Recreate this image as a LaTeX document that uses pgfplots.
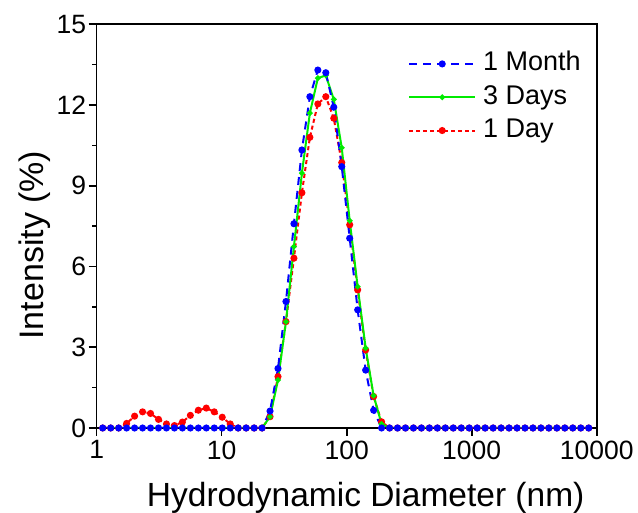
\documentclass[border=0pt]{standalone}
\usepackage{fontspec}
\setmainfont{Liberation Sans}
\usepackage{pgfplots}
\usepackage{pgfplotstable}
\pgfplotsset{compat=1.18}
\definecolor{cblue}{RGB}{0,0,255}
\definecolor{cgreen}{RGB}{0,235,0}
\definecolor{cred}{RGB}{255,0,0}
\pgfplotstableread{
d red green blue
1.117 0 0 0
1.294 0 0 0
1.499 0 0 0
1.736 0.17 0 0
2.010 0.44 0 0
2.328 0.60 0 0
2.696 0.54 0 0
3.122 0.32 0 0
3.615 0.15 0 0
4.187 0.09 0 0
4.849 0.22 0 0
5.615 0.47 0 0
6.503 0.66 0 0
7.531 0.74 0 0
8.721 0.60 0 0
10.10 0.40 0 0
11.70 0.15 0 0
13.54 0 0 0
15.69 0 0 0
18.17 0 0 0
21.04 0 0 0
24.36 0.42 0.42 0.63
28.21 1.91 1.78 2.21
32.67 3.95 3.95 4.70
37.84 6.31 6.74 7.59
43.82 8.74 9.47 10.33
50.75 10.80 11.70 12.31
58.77 12.04 13.00 13.30
68.06 12.31 13.10 13.20
78.82 11.51 12.21 11.92
91.28 9.86 10.41 9.71
105.7 7.55 7.70 7.05
122.4 5.13 5.25 4.39
141.8 2.90 2.97 2.15
164.2 1.17 1.20 0.66
190.1 0.23 0.15 0
220.2 0 0 0
255.0 0 0 0
295.3 0 0 0
342.0 0 0 0
396.1 0 0 0
458.7 0 0 0
531.2 0 0 0
615.1 0 0 0
712.4 0 0 0
825.0 0 0 0
955.4 0 0 0
1106 0 0 0
1281 0 0 0
1484 0 0 0
1718 0 0 0
1990 0 0 0
2305 0 0 0
2669 0 0 0
3091 0 0 0
3580 0 0 0
4145 0 0 0
4801 0 0 0
5560 0 0 0
6439 0 0 0
7456 0 0 0
8635 0 0 0
}\data
\begin{document}
\begin{tikzpicture}
\useasboundingbox (-96.7pt,-85pt) rectangle (541.3pt,428pt);
\begin{axis}[
  at={(0pt,0pt)}, anchor=south west,
  scale only axis, width=500pt, height=403.7pt,
  xmode=log, log basis x=10,
  xmin=1, xmax=10000, ymin=0, ymax=15,
  xtick={1,10,100,1000,10000},
  xticklabels={1,10,100,1000,10000},
  ytick={0,3,6,9,12,15},
  minor ytick={1.5,4.5,7.5,10.5,13.5},
  /pgf/number format/assume math mode=true,
  tick pos=left, tick align=outside,
  major tick length=8pt, minor tick length=4.5pt,
  every tick/.style={line width=1.6pt, black},
  axis line style={line width=1.6pt},
  tick label style={font=\fontsize{26.5}{31}\selectfont},
  xticklabel style={yshift=-1pt},
  yticklabel style={xshift=1pt},
  xlabel={\fontsize{33.5}{40}\selectfont Hydrodynamic Diameter (nm)},
  ylabel={\fontsize{34}{40}\selectfont Intensity (\%)},
  xlabel style={at={(axis description cs:0.538,-0.1957)}, anchor=base},
  ylabel style={at={(axis description cs:-0.1068,0.453)}, anchor=base},
  clip=true,
  reverse legend,
  legend cell align=left,
  legend style={at={(axis description cs:0.6226,0.937)}, anchor=north west,
    draw=none, fill=none, inner sep=0pt,
    font=\fontsize{27}{32}\selectfont,
    nodes={inner sep=1pt, text height=20pt, text depth=6pt},
    row sep=5.3pt,
    /tikz/every odd column/.append style={column sep=6pt}},
  legend image code/.code={\draw[mark repeat=2,mark phase=2] plot coordinates {(0pt,0pt) (33pt,0pt) (66pt,0pt)};},
]
\addplot[cred, line width=2pt, dash pattern=on 4pt off 3pt, mark=*, mark size=2.5pt, mark options={solid}] table[x=d,y=red] {\data};
\addlegendentry{1 Day}
\addplot[cgreen, line width=2pt, mark=*, mark size=1.7pt, mark options={solid}] table[x=d,y=green] {\data};
\addlegendentry{3 Days}
\addplot[cblue, line width=2pt, dash pattern=on 8pt off 6pt, mark=*, mark size=2.5pt, mark options={solid}] table[x=d,y=blue] {\data};
\addlegendentry{1 Month}
\end{axis}
\end{tikzpicture}
\end{document}
